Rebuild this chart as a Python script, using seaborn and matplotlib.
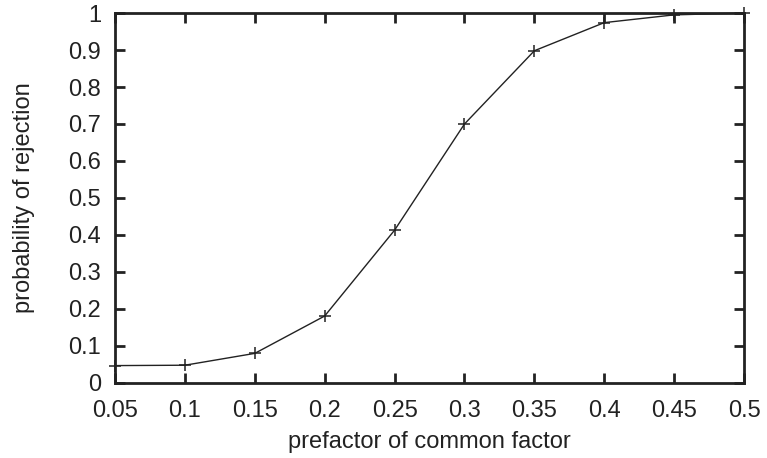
import matplotlib
matplotlib.use("Agg")
import matplotlib.pyplot as plt
import seaborn as sns
import pandas as pd

# prefactor of the common factor vs. rejection probability
prefactor = [0.05, 0.10, 0.15, 0.20, 0.25, 0.30, 0.35, 0.40, 0.45, 0.50]
rejection = [0.047, 0.048, 0.080, 0.181, 0.413, 0.700, 0.898, 0.974, 0.995, 1.000]

x_ticks = [0.05, 0.1, 0.15, 0.2, 0.25, 0.3, 0.35, 0.4, 0.45, 0.5]
x_tick_labels = ["0.05", "0.1", "0.15", "0.2", "0.25", "0.3", "0.35", "0.4", "0.45", "0.5"]
y_ticks = [0, 0.1, 0.2, 0.3, 0.4, 0.5, 0.6, 0.7, 0.8, 0.9, 1]
y_tick_labels = ["0", "0.1", "0.2", "0.3", "0.4", "0.5", "0.6", "0.7", "0.8", "0.9", "1"]

sns.set_style("ticks")
plt.rcParams["font.family"] = ["Liberation Sans", "DejaVu Sans"]

df = pd.DataFrame({"prefactor": prefactor, "rejection": rejection})

fig = plt.figure(figsize=(7.67, 4.58), dpi=100)
ax = fig.add_axes([0.1499, 0.1638, 0.8202, 0.8078])

sns.lineplot(data=df, x="prefactor", y="rejection", ax=ax, color="#222222",
             linewidth=1.0, marker="+", markersize=9, markeredgewidth=1.1,
             markeredgecolor="#222222", clip_on=False)

ax.set_xlim(0.05, 0.5)
ax.set_ylim(0, 1)
ax.set_xticks(x_ticks)
ax.set_xticklabels(x_tick_labels)
ax.set_yticks(y_ticks)
ax.set_yticklabels(y_tick_labels)

for side in ax.spines.values():
    side.set_visible(True)
    side.set_linewidth(2.0)
    side.set_color("#222222")

ax.tick_params(direction="in", length=7, width=2.0, color="#222222",
               top=True, right=True, labelsize=17, labelcolor="#222222")
ax.tick_params(axis="x", pad=12)
ax.tick_params(axis="y", pad=10)

ax.set_xlabel("prefactor of common factor", fontsize=17, color="#222222", labelpad=7)
ax.set_ylabel("probability of rejection", fontsize=17, color="#222222", labelpad=24)

fig.savefig("out.png", dpi=100)
